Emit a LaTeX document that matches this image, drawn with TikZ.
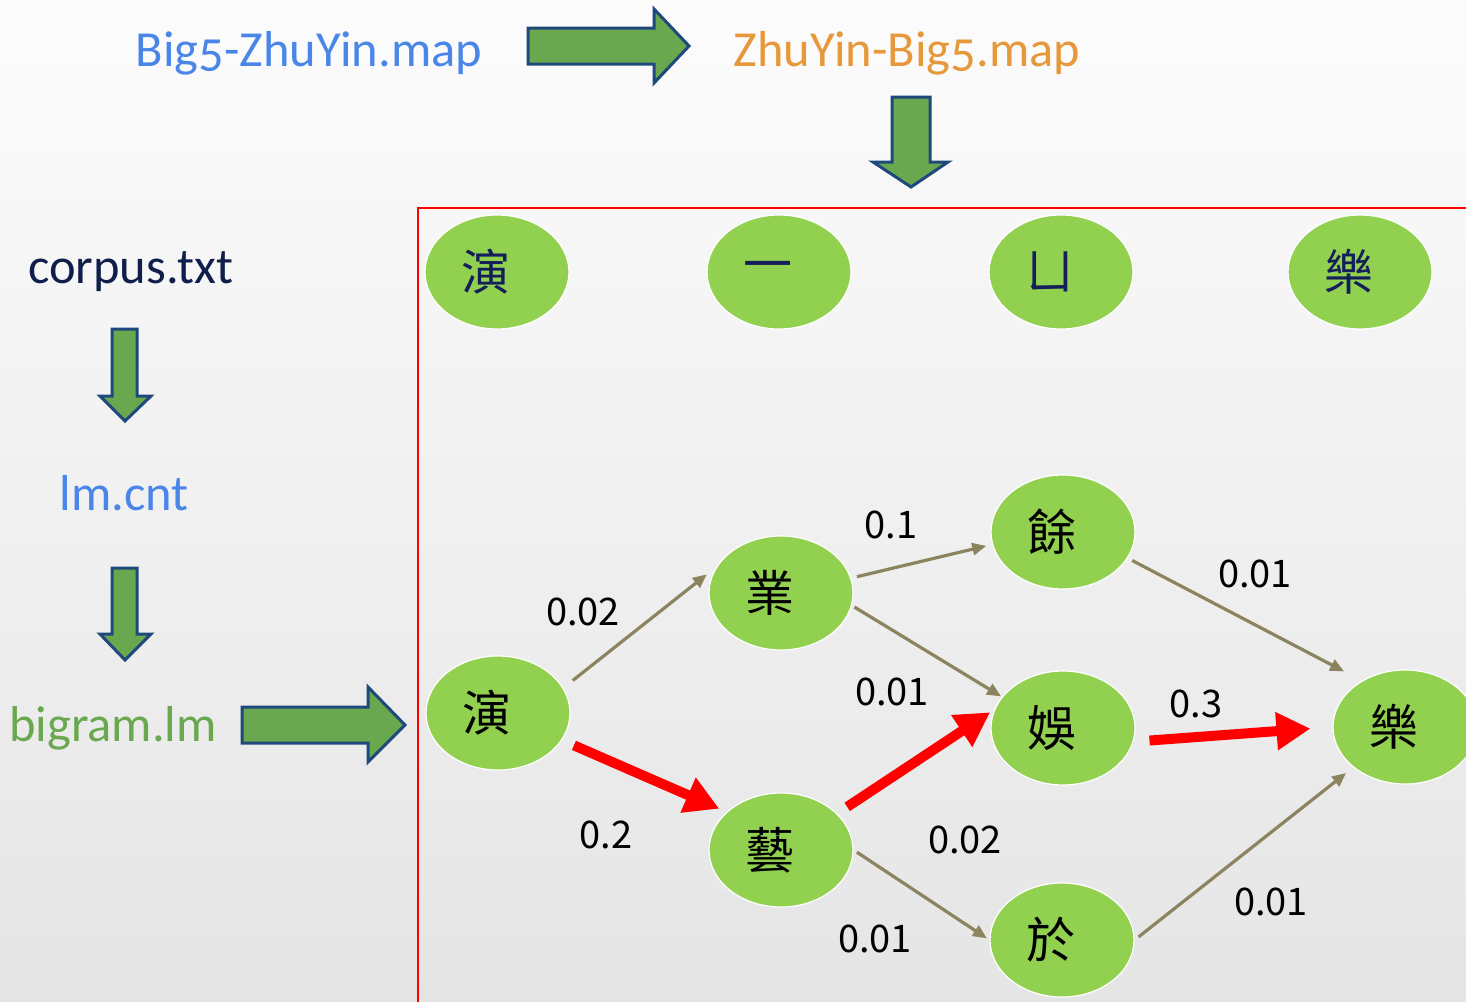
\documentclass[tikz,border=0pt]{standalone}
\usepackage{fontspec}
\setmainfont{Carlito}
\newfontfamily\ttl[Numbers=OldStyle]{Carlito}
\newfontfamily\cjk{Noto Sans CJK TC}
\usetikzlibrary{shapes.geometric,arrows.meta}
\definecolor{bgtop}{RGB}{252,252,252}
\definecolor{bgbot}{RGB}{229,229,229}
\definecolor{nodegreen}{RGB}{146,208,80}
\definecolor{blockgreen}{RGB}{106,168,79}
\definecolor{blocknavy}{RGB}{31,73,125}
\definecolor{olive}{RGB}{140,132,95}
\definecolor{tblue}{RGB}{74,134,232}
\definecolor{torange}{RGB}{230,152,58}
\definecolor{tnavy}{RGB}{15,30,75}
\definecolor{tgreen}{RGB}{106,168,79}
\definecolor{charnavy}{RGB}{20,30,90}
\tikzset{
  ell/.style={ellipse, fill=nodegreen, draw=white, line width=1.2pt,
    minimum width=144pt, minimum height=114pt, inner sep=0pt,
    font=\cjk\fontsize{49}{52}\selectfont,
    execute at begin node={\hspace*{-22pt}}},
  topell/.style={ell, text=charnavy},
  grell/.style={ell, text=black},
  blockarrow/.style={fill=blockgreen, draw=blocknavy, line width=3pt, line join=miter},
  title/.style={anchor=base, inner sep=0pt, font=\ttl\fontsize{50.5}{54}\selectfont},
  prob/.style={anchor=base, inner sep=0pt, font=\cjk\fontsize{38}{42}\selectfont, text=black},
  oedge/.style={draw=olive, line width=3.2pt, -{Triangle[length=14pt,width=12pt]}},
  redge/.style={draw=red, line width=10pt, -{Triangle[length=34pt,width=36pt]}},
}
\begin{document}
\begin{tikzpicture}[x=1pt,y=-1pt]
\useasboundingbox (0,0) rectangle (1466,1001);
\clip (0,0) rectangle (1466,1001);
\shade[top color=bgtop, bottom color=bgbot] (0,0) rectangle (1466,1001);

% titles
\node[title, text=tblue] (b2z) at (309,66) {Big5-ZhuYin.map};
\node[title, text=torange] (z2b) at (907,66) {ZhuYin-Big5.map};
\node[title, text=tnavy] (corpus) at (131,283) {corpus.txt};
\node[title, text=tblue] (lmcnt) at (124,510) {lm.cnt};
\node[title, text=tgreen] (bigram) at (113,741) {bigram.lm};

% block arrows
\path[blockarrow] (528,28) -- (654,28) -- (654,9) -- (689,46) -- (654,83) -- (654,64) -- (528,64) -- cycle;
\path[blockarrow] (892,97) -- (930,97) -- (930,162) -- (948,162) -- (911,187) -- (873,162) -- (892,162) -- cycle;
\path[blockarrow] (112,329) -- (137,329) -- (137,396) -- (151,396) -- (125,421) -- (100,396) -- (112,396) -- cycle;
\path[blockarrow] (112,568) -- (137,568) -- (137,634) -- (151,634) -- (125,660) -- (100,634) -- (112,634) -- cycle;
\path[blockarrow] (242,707) -- (368,707) -- (368,687) -- (405,725) -- (368,762) -- (368,743) -- (242,743) -- cycle;

% red frame
\draw[red, line width=2.5pt] (1475,208) -- (418,208) -- (418,1010);

% top row
\node[topell] (t1) at (497,272) {演};
\node[topell] (t2) at (779,272) {一};
\node[topell] (t3) at (1061,272) {ㄩ};
\node[topell] (t4) at (1360,272) {樂};

% graph
\node[grell] (yan) at (498,713) {演};
\node[grell] (ye) at (781,593) {業};
\node[grell] (yu1) at (1063,532) {餘};
\node[grell] (yu2) at (1063,728) {娛};
\node[grell] (yi) at (781,850) {藝};
\node[grell] (yu3) at (1062,940) {於};
\node[grell] (le) at (1405,727) {樂};

\draw[oedge, shorten <=12pt, shorten >=12pt] (yan.21) -- (ye.158);
\draw[oedge, shorten <=6pt, shorten >=6pt] (ye.12) -- (yu1.190);
\draw[oedge, shorten <=3pt, shorten >=1pt] (ye.-10) -- (yu2.153);
\draw[oedge, shorten <=5pt, shorten >=20pt] (yu1.-22) -- (le.133);
\draw[oedge, shorten <=4pt, shorten >=3pt] (yi.0) -- (yu3.180);
\draw[oedge, shorten <=5pt, shorten >=9pt] (yu3.0) -- (le.-142);

\draw[redge, shorten <=13pt, shorten >=8pt] (yan.-23) -- (yi.145);
\draw[redge, shorten <=12pt, shorten >=5pt] (yi.33) -- (yu2.165);
\draw[redge, shorten <=16pt, shorten >=22pt] (yu2.-11) -- (le.180);

% probabilities
\node[prob] (p1) at (891,538) {0.1};
\node[prob] (p2) at (583,625) {0.02};
\node[prob] (p3) at (892,705) {0.01};
\node[prob] (p4) at (1255,587) {0.01};
\node[prob] (p5) at (1196,717) {0.3};
\node[prob] (p6) at (606,848) {0.2};
\node[prob] (p7) at (965,853) {0.02};
\node[prob] (p8) at (875,952) {0.01};
\node[prob] (p9) at (1271,915) {0.01};
\end{tikzpicture}
\end{document}
